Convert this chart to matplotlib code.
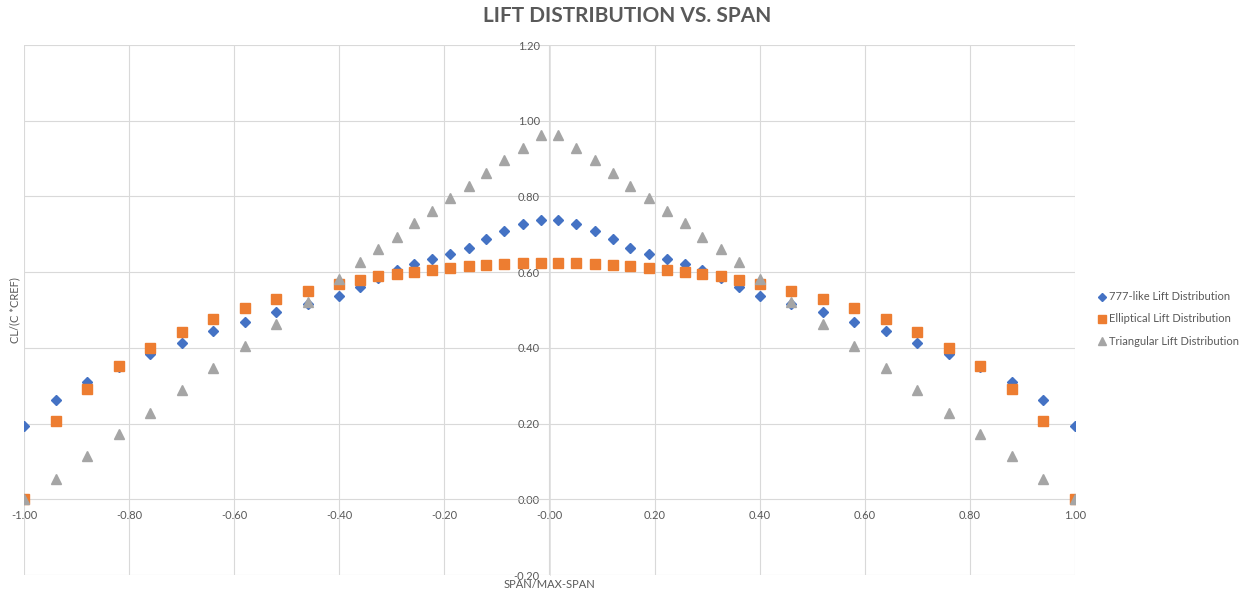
import numpy as np
import matplotlib
matplotlib.use("Agg")
import matplotlib.pyplot as plt

plt.rcParams['font.family'] = ['Lato', 'DejaVu Sans']

# span positions (left half, mirrored for right half)
x_left = [-1.00, -0.94, -0.88, -0.82, -0.76, -0.70, -0.64, -0.58, -0.52, -0.46, -0.40,
          -0.360, -0.326, -0.291, -0.257, -0.223, -0.189, -0.154, -0.120, -0.086, -0.051, -0.017]
x_right = [0.017, 0.051, 0.086, 0.120, 0.154, 0.189, 0.223, 0.257, 0.291, 0.326, 0.360,
           0.40, 0.46, 0.52, 0.58, 0.64, 0.70, 0.76, 0.82, 0.88, 0.94, 1.00]
span = x_left + x_right

like777_left = [0.193, 0.262, 0.311, 0.350, 0.384, 0.414, 0.444, 0.469, 0.495, 0.517, 0.537,
                0.561, 0.585, 0.605, 0.621, 0.635, 0.648, 0.665, 0.687, 0.710, 0.727, 0.737]
elliptical_left = [0.000, 0.207, 0.292, 0.352, 0.400, 0.441, 0.476, 0.505, 0.530, 0.550, 0.569,
                   0.580, 0.589, 0.596, 0.601, 0.605, 0.611, 0.616, 0.618, 0.621, 0.623, 0.623]
triangular_left = [0.000, 0.053, 0.114, 0.172, 0.229, 0.288, 0.347, 0.405, 0.463, 0.522, 0.582,
                   0.627, 0.661, 0.694, 0.729, 0.762, 0.795, 0.828, 0.862, 0.895, 0.929, 0.963]

like777 = like777_left + like777_left[::-1]
elliptical = elliptical_left + elliptical_left[::-1]
triangular = triangular_left + triangular_left[::-1]

series_names = ['777-like Lift Distribution', 'Elliptical Lift Distribution',
                'Triangular Lift Distribution']

txt = '#595959'
grid = '#D9D9D9'

fig = plt.figure(figsize=(12.54, 5.92), dpi=100)
ax = fig.add_axes([24/1254, 1 - 575/592, (1075 - 24)/1254, (575 - 45)/592])

ax.plot(span, like777, linestyle='none', marker='D', ms=5.5, color='#4472C4',
        mec='#4472C4', label=series_names[0], zorder=3)
ax.plot(span, elliptical, linestyle='none', marker='s', ms=7, color='#ED7D31',
        mec='#ED7D31', label=series_names[1], zorder=3)
ax.plot(span, triangular, linestyle='none', marker='^', ms=7.5, color='#A5A5A5',
        mec='#A5A5A5', label=series_names[2], zorder=3)

ax.set_xlim(-1, 1)
ax.set_ylim(-0.2, 1.2)
ax.set_xticks(np.arange(-1, 1.01, 0.2))
ax.set_yticks(np.arange(-0.2, 1.21, 0.2))
ax.xaxis.set_major_formatter(matplotlib.ticker.FormatStrFormatter('%.2f'))
ax.yaxis.set_major_formatter(matplotlib.ticker.FormatStrFormatter('%.2f'))
ax.grid(True, color=grid, linewidth=0.8, zorder=0)
ax.set_axisbelow(True)

for s in ['top', 'right']:
    ax.spines[s].set_visible(False)
ax.spines['left'].set_position(('data', 0))
ax.spines['bottom'].set_position(('data', 0))
ax.spines['left'].set_color(grid)
ax.spines['bottom'].set_color(grid)
ax.spines['left'].set_linewidth(0.5)
ax.spines['bottom'].set_linewidth(0.5)
ax.tick_params(axis='both', length=0, labelsize=8, labelcolor=txt)
ax.tick_params(axis='y', pad=7)
ax.tick_params(axis='x', pad=8)

fig.text(0.5, 1 - 16/592, 'LIFT DISTRIBUTION VS. SPAN', ha='center', va='center',
         fontsize=15, fontweight='bold', color=txt)
fig.text(549.5/1254, 1 - 585/592, 'SPAN/MAX-SPAN', ha='center', va='center',
         fontsize=8, color=txt)
fig.text(15/1254, 1 - 310/592, 'CL/(C *CREF)', ha='center', va='center',
         rotation=90, fontsize=8, color=txt)

leg = fig.legend(loc='center left', bbox_to_anchor=(1094/1254, 1 - 319/592),
                 frameon=False, fontsize=8, labelcolor=txt, handlelength=0.6,
                 handletextpad=0.35, labelspacing=1.0, borderaxespad=0,
                 markerscale=0.75)

fig.savefig('out.png', dpi=100)
